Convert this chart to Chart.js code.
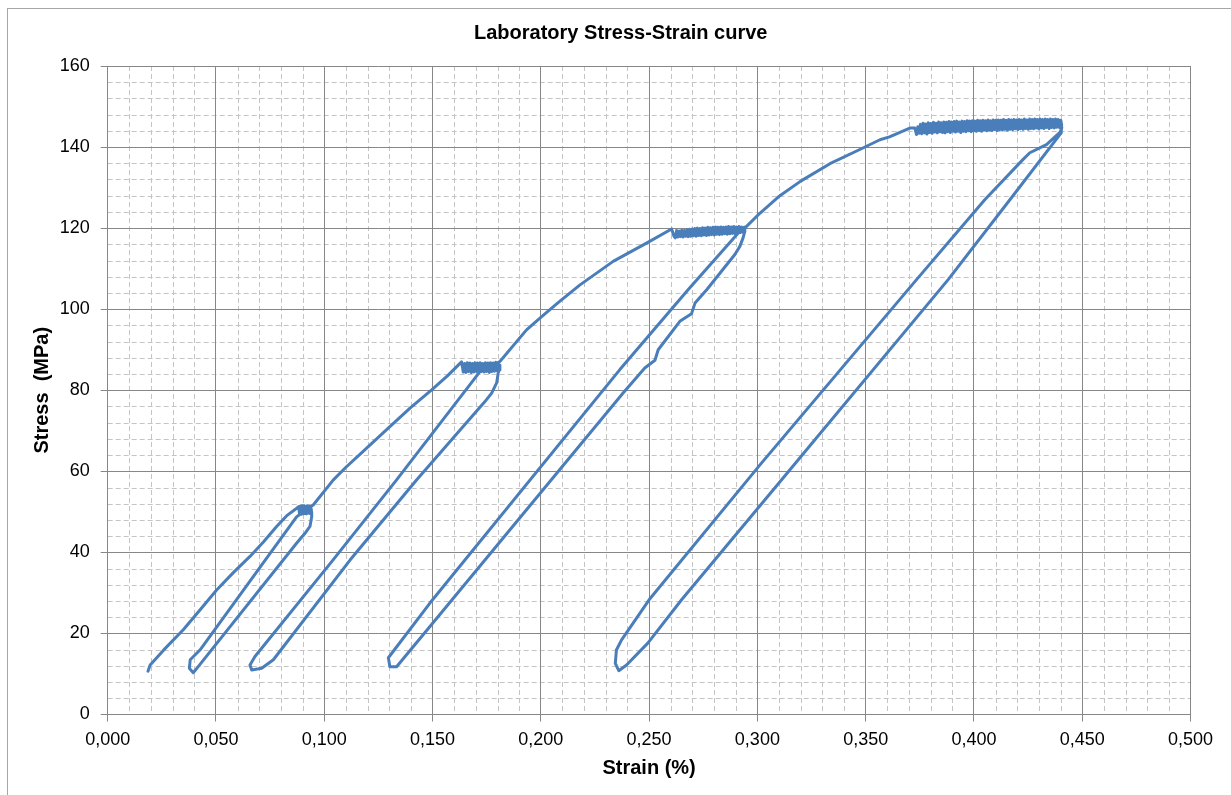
<!DOCTYPE html>
<html>
<head>
<meta charset="utf-8">
<script src="https://cdn.jsdelivr.net/npm/chart.js@4.4.0/dist/chart.umd.min.js"></script>
<style>
html, body { margin: 0; padding: 0; background: #fff; }
#wrap { width: 1231px; height: 795px; }
</style>
</head>
<body>
<div id="wrap"><canvas id="myChart" width="1231" height="795"></canvas></div>
<script>
// strain (%) / stress (MPa), in drawing order
var load1 = [[0.0186,10.7],[0.0196,12.2],[0.0260,16.0],[0.0349,20.9],[0.0426,25.8],[0.0503,30.7],[0.0580,35.0],[0.0657,39.0],[0.0720,42.6],[0.0780,46.4],[0.0830,49.2],[0.0873,50.9],[0.0882,51.3]];
var plateau1 = [[0.0886,49.3],[0.0890,51.4],[0.0894,49.4],[0.0898,51.5],[0.0902,49.5],[0.0906,51.5],[0.0910,49.6],[0.0914,51.4],[0.0918,49.5],[0.0922,51.5],[0.0926,49.7],[0.0930,51.4],[0.0934,49.6],[0.0938,51.3],[0.0942,49.8]];
var unload1 = [[0.0942,48.8],[0.0934,46.4],[0.0911,44.7],[0.0873,42.3],[0.0418,11.8],[0.0395,10.3]];
var reload1 = [[0.0377,11.4],[0.0381,13.5],[0.0426,15.9],[0.0873,48.8],[0.0903,50.0]];

var load2 = [[0.0949,51.7],[0.1042,57.9],[0.1100,61.0],[0.1177,64.8],[0.1303,71.0],[0.1396,75.6],[0.1496,80.1],[0.1570,83.6],[0.1634,87.0]];
var plateau2 = [[0.1642,84.5],[0.1648,86.6],[0.1654,84.4],[0.1660,86.8],[0.1666,84.6],[0.1672,86.7],[0.1678,84.4],[0.1684,86.6],[0.1690,84.5],[0.1696,86.8],[0.1702,84.6],[0.1708,86.7],[0.1714,84.4],[0.1720,86.8],[0.1726,84.6],[0.1732,86.6],[0.1738,84.5],[0.1744,86.8],[0.1750,84.6],[0.1756,86.7],[0.1762,84.4],[0.1768,86.8],[0.1774,84.6],[0.1780,86.7],[0.1786,84.7],[0.1792,86.9],[0.1798,84.8],[0.1804,86.8],[0.1810,85.0],[0.1811,86.2]];
var unload2 = [[0.1803,84.2],[0.1796,81.8],[0.1773,79.3],[0.1742,77.2],[0.1427,57.9],[0.1119,38.1],[0.0765,13.5],[0.0711,11.4],[0.0665,11.0]];
var reload2 = [[0.0657,12.2],[0.0680,14.3],[0.1040,38.1],[0.1334,57.9],[0.1719,84.6],[0.1751,85.5]];

var load3 = [[0.1811,87.1],[0.1934,94.9],[0.2000,98.0],[0.2080,101.6],[0.2181,106.0],[0.2334,111.8],[0.2488,116.3],[0.2604,119.8]];
var plateau3 = [[0.2615,118.0],[0.2621,117.6],[0.2627,119.4],[0.2633,117.8],[0.2639,119.3],[0.2645,117.9],[0.2651,119.5],[0.2657,117.8],[0.2663,119.4],[0.2669,118.0],[0.2675,119.6],[0.2681,117.9],[0.2687,119.7],[0.2693,118.0],[0.2699,119.8],[0.2705,118.1],[0.2711,119.9],[0.2717,118.0],[0.2723,120.0],[0.2729,118.2],[0.2735,119.9],[0.2741,118.1],[0.2747,120.1],[0.2753,118.3],[0.2759,120.0],[0.2765,118.2],[0.2771,120.2],[0.2777,118.3],[0.2783,120.1],[0.2789,118.4],[0.2795,120.2],[0.2801,118.3],[0.2807,120.3],[0.2813,118.5],[0.2819,120.2],[0.2825,118.4],[0.2831,120.3],[0.2837,118.5],[0.2843,120.2],[0.2849,118.6],[0.2855,120.3],[0.2861,118.5],[0.2867,120.4],[0.2873,118.6],[0.2879,120.3],[0.2885,118.7],[0.2891,120.4],[0.2897,118.6],[0.2903,120.3],[0.2909,118.8],[0.2915,120.4],[0.2921,118.9],[0.2927,120.3],[0.2933,119.0],[0.2939,120.2]];
var unload3 = [[0.2942,119.2],[0.2934,117.6],[0.2919,115.5],[0.2896,113.5],[0.2766,104.8],[0.2712,101.5],[0.2696,98.9],[0.2642,97.0],[0.2542,90.0],[0.2527,87.4],[0.2480,85.5],[0.2380,79.3],[0.1488,21.7],[0.1334,11.8],[0.1303,11.8]];
var reload3 = [[0.1296,14.0],[0.1488,27.5],[0.2365,85.1],[0.2680,104.8],[0.2919,119.2],[0.2942,120.0]];

var load4 = [[0.3010,123.6],[0.3104,128.0],[0.3200,131.6],[0.3335,135.9],[0.3473,139.4],[0.3566,141.8],[0.3610,142.5],[0.3704,144.7],[0.3727,144.7],[0.3735,143.1]];
var plateau4 = [[0.3741,145.0],[0.3747,143.4],[0.3753,145.6],[0.3759,143.3],[0.3765,145.9],[0.3771,143.5],[0.3777,145.7],[0.3783,143.2],[0.3789,146.0],[0.3795,143.6],
  [0.3801,145.8],[0.3807,143.4],[0.3813,146.1],[0.3819,143.7],[0.3825,145.9],[0.3831,143.5],[0.3837,146.2],[0.3843,143.8],[0.3849,146.0],[0.3855,143.6],
  [0.3861,146.2],[0.3867,143.5],[0.3873,146.1],[0.3879,143.8],[0.3885,146.3],[0.3891,143.6],[0.3897,146.2],[0.3903,143.9],[0.3909,146.3],[0.3915,143.7],
  [0.3921,146.4],[0.3927,143.9],[0.3933,146.2],[0.3939,143.6],[0.3945,146.4],[0.3951,143.9],[0.3957,146.3],[0.3963,143.8],[0.3969,146.5],[0.3975,144.0],
  [0.3981,146.4],[0.3987,143.8],[0.3993,146.5],[0.3999,144.0],[0.4005,146.4],[0.4011,143.9],[0.4017,146.6],[0.4023,144.1],[0.4029,146.5],[0.4035,143.9],
  [0.4041,146.6],[0.4047,144.2],[0.4053,146.5],[0.4059,144.0],[0.4065,146.7],[0.4071,144.2],[0.4077,146.5],[0.4083,144.1],[0.4089,146.7],[0.4095,144.3],
  [0.4101,146.6],[0.4107,144.1],[0.4113,146.7],[0.4119,144.3],[0.4125,146.6],[0.4131,144.2],[0.4137,146.8],[0.4143,144.4],[0.4149,146.6],[0.4155,144.2],
  [0.4161,146.8],[0.4167,144.4],[0.4173,146.7],[0.4179,144.3],[0.4185,146.8],[0.4191,144.5],[0.4197,146.7],[0.4203,144.3],[0.4209,146.8],[0.4215,144.5],
  [0.4221,146.7],[0.4227,144.4],[0.4233,146.9],[0.4239,144.6],[0.4245,146.7],[0.4251,144.4],[0.4257,146.9],[0.4263,144.6],[0.4269,146.8],[0.4275,144.5],
  [0.4281,146.9],[0.4287,144.7],[0.4293,146.8],[0.4299,144.5],[0.4305,146.9],[0.4311,144.7],[0.4317,146.8],[0.4323,144.6],[0.4329,146.9],[0.4335,144.8],
  [0.4341,146.8],[0.4347,144.6],[0.4353,146.9],[0.4359,144.8],[0.4365,146.8],[0.4371,144.7],[0.4377,146.9],[0.4383,144.9],[0.4389,146.8],[0.4395,144.8],
  [0.4401,146.6],[0.4405,145.5]];
var unload4 = [[0.4403,143.5],[0.4166,127.0],[0.3881,107.3],[0.3112,57.9],[0.2650,28.3],[0.2494,17.6],[0.2396,12.2],[0.2360,10.8]];
var reload4 = [[0.2344,12.6],[0.2349,15.9],[0.2373,18.4],[0.2500,28.3],[0.3012,61.6],[0.3735,107.3],[0.4050,127.0],[0.4226,136.9],[0.4258,138.6],[0.4335,140.6],[0.4397,143.6],[0.4406,144.8]];

var segments = [load1, plateau1, unload1, reload1, load2, plateau2, unload2, reload2,
                load3, plateau3, unload3, reload3, load4, plateau4, unload4, reload4];

var points = [];
segments.forEach(function(seg) {
    seg.forEach(function(p) { points.push({ x: p[0], y: p[1] }); });
});

var fontFamily = "'Liberation Sans', Arial, sans-serif";

// dashed minor grid + outer frame, drawn before the major grid
var minorGrid = {
    id: 'minorGrid',
    beforeDraw: function(chart) {
        var ctx = chart.ctx, a = chart.chartArea;
        var xs = chart.scales.x, ys = chart.scales.y;
        ctx.save();
        ctx.fillStyle = '#fff';
        ctx.fillRect(0, 0, chart.width, chart.height);
        ctx.strokeStyle = '#a6a6a6';
        ctx.lineWidth = 1;
        ctx.strokeRect(7.5, 8.5, chart.width, chart.height);

        ctx.strokeStyle = '#c4c4c4';
        ctx.setLineDash([5, 3]);
        ctx.beginPath();
        for (var i = 1; i < 50; i++) {
            if (i % 5 === 0) continue;
            var px = Math.round(xs.getPixelForValue(i * 0.01)) + 0.5;
            ctx.moveTo(px, a.top);
            ctx.lineTo(px, a.bottom);
        }
        for (var j = 1; j < 40; j++) {
            if (j % 5 === 0) continue;
            var py = Math.round(ys.getPixelForValue(j * 4)) + 0.5;
            ctx.moveTo(a.left, py);
            ctx.lineTo(a.right, py);
        }
        ctx.stroke();
        ctx.restore();
    }
};

var ctx = document.getElementById('myChart').getContext('2d');
var chart = new Chart(ctx, {
    type: 'scatter',
    data: {
        datasets: [{
            label: 'Stress',
            data: points,
            showLine: true,
            borderColor: '#4a7ebb',
            borderWidth: 3,
            borderJoinStyle: 'round',
            borderCapStyle: 'round',
            pointRadius: 0,
            tension: 0
        }]
    },
    options: {
        responsive: false,
        animation: false,
        devicePixelRatio: 1,
        layout: { padding: { left: 51, right: 40.5, top: 0, bottom: 15 } },
        plugins: {
            legend: { display: false },
            tooltip: { enabled: false },
            title: {
                display: true,
                text: 'Laboratory Stress-Strain curve',
                color: '#000',
                font: { family: fontFamily, size: 20, weight: 'bold' },
                padding: { top: 21, bottom: 21 }
            }
        },
        scales: {
            x: {
                type: 'linear',
                min: 0,
                max: 0.5,
                afterFit: function(s) { s.height = 65.5; },
                ticks: {
                    stepSize: 0.05,
                    color: '#000',
                    padding: 8,
                    maxRotation: 0,
                    font: { family: fontFamily, size: 18 },
                    callback: function(v) { return v.toFixed(3).replace('.', ','); }
                },
                grid: { color: '#878787', tickColor: '#878787', tickLength: 7 },
                border: { color: '#878787' },
                title: {
                    display: true,
                    text: 'Strain (%)',
                    color: '#000',
                    font: { family: fontFamily, size: 20, weight: 'bold' },
                    padding: { top: 0, bottom: 0 }
                }
            },
            y: {
                min: 0,
                max: 160,
                afterFit: function(s) { s.width = 56.7; },
                ticks: {
                    stepSize: 20,
                    color: '#000',
                    padding: 11,
                    font: { family: fontFamily, size: 18 }
                },
                grid: { color: '#878787', tickColor: '#878787', tickLength: 7 },
                border: { color: '#878787' },
                title: {
                    display: true,
                    text: 'Stress  (MPa)',
                    color: '#000',
                    font: { family: fontFamily, size: 20, weight: 'bold' },
                    padding: { top: -21, bottom: 0 }
                }
            }
        }
    },
    plugins: [minorGrid]
});
</script>
</body>
</html>
